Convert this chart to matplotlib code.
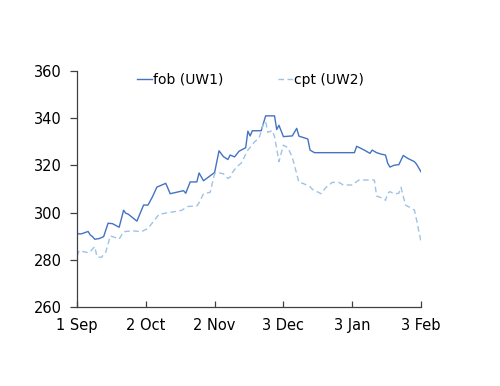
import matplotlib
matplotlib.use("Agg")
import matplotlib.pyplot as plt
import matplotlib.dates as mdates
import pandas as pd

start = pd.Timestamp("2008-09-01")

fob_days = [0, 2, 5, 6, 7, 8, 10, 12, 14, 16, 19, 21, 22, 23, 27, 30, 32, 34, 36, 40,
            42, 48, 49, 51, 54, 55, 57, 62, 64, 66, 68, 69, 71, 73, 76, 77, 78, 79, 83,
            85, 89, 90, 91, 93, 97, 99, 100, 104, 105, 107, 125, 126, 128, 130, 132, 133,
            135, 137, 139, 140, 141, 143, 145, 147, 149, 152, 153, 155]
fob_vals = [291, 291, 292, 290.5, 289.8, 288.7, 289, 289.8, 295.5, 295.3, 293.8, 301,
            299.7, 299.4, 296.4, 303.2, 303.2, 306.7, 310.8, 312.4, 308, 309.3, 308.2,
            313, 313, 316.8, 313.5, 317, 326.2, 323.7, 322.5, 324.4, 323.6, 326, 327.5,
            334.5, 332.5, 334.7, 334.7, 341, 341, 335.2, 337, 332.2, 332.5, 335.7, 332.4,
            331.2, 326.5, 325.4, 325.4, 328.1, 327.2, 326.2, 325.1, 326.5, 325.4, 324.8,
            324.4, 320.9, 319.3, 320.1, 320.3, 324.2, 323, 321.6, 320.5, 317.3]

cpt_days = [0, 1, 5, 6, 8, 9, 11, 13, 15, 17, 19, 21, 25, 29, 32, 37, 42, 47, 50, 54,
            55, 57, 60, 62, 64, 66, 68, 69, 70, 72, 74, 77, 80, 82, 83, 84, 85, 86, 88,
            89, 91, 93, 95, 97, 100, 102, 105, 106, 110, 112, 115, 118, 120, 124, 127,
            134, 135, 138, 139, 140, 141, 143, 145, 146, 148, 150, 152, 153, 155]
cpt_vals = [281.6, 283.9, 283, 283.5, 285.6, 281.3, 281, 283.4, 290.1, 289.5, 288.8,
            291.9, 292.3, 291.9, 293.3, 299.3, 300.1, 300.9, 302.6, 302.8, 304.2, 308,
            308.6, 316.5, 316.9, 316.4, 314.5, 315, 317, 319.4, 321, 326.5, 330, 331.5,
            334.5, 338, 338.5, 334, 334.8, 332.2, 321.6, 328.6, 327.5, 323.5, 312.8,
            312.3, 311, 309.9, 308, 310.5, 312.8, 312.8, 311.7, 311.7, 313.8, 313.8, 307,
            306, 305.2, 308.2, 308.9, 307.9, 308.2, 310.7, 303.2, 302.2, 301.1, 296.9,
            287.7]

tick_labels = ["1 Sep", "2 Oct", "2 Nov", "3 Dec", "3 Jan", "3 Feb"]
tick_days = [0, 31, 62, 93, 124, 155]
y_ticks = [260, 280, 300, 320, 340, 360]

fob_dates = start + pd.to_timedelta(fob_days, unit="D")
cpt_dates = start + pd.to_timedelta(cpt_days, unit="D")
tick_dates = start + pd.to_timedelta(tick_days, unit="D")

plt.rcParams["font.family"] = ["DejaVu Sans"]

fig = plt.figure(figsize=(5.0, 3.86), dpi=100)
ax = fig.add_axes([0.154, 0.2047, 0.688, 0.6113])

ax.plot(fob_dates, fob_vals, color="#4472C4", lw=1.0, label="fob (UW1)")
ax.plot(cpt_dates, cpt_vals, color="#9DC3E6", lw=1.0, ls=(0, (4, 2.5)), label="cpt (UW2)")

ax.set_xlim(tick_dates[0], tick_dates[-1])
ax.set_ylim(260, 360)
ax.set_xticks(tick_dates)
ax.set_xticklabels(tick_labels)
ax.set_yticks(y_ticks)

for s in ["top", "right"]:
    ax.spines[s].set_visible(False)
for s in ["left", "bottom"]:
    ax.spines[s].set_color("#404040")
    ax.spines[s].set_linewidth(0.9)

ax.tick_params(axis="x", direction="in", length=4, width=0.9, color="#404040",
               labelsize=10.5, pad=8)
ax.tick_params(axis="y", direction="out", length=5, width=0.9, color="#404040",
               labelsize=10.5, pad=6)

ax.legend(loc="center", bbox_to_anchor=(0.504, 0.962), ncol=2, frameon=False,
          fontsize=10, handlelength=1.15, handletextpad=0.05, columnspacing=3.9,
          borderpad=0, borderaxespad=0)

fig.savefig("out.png", dpi=100)
